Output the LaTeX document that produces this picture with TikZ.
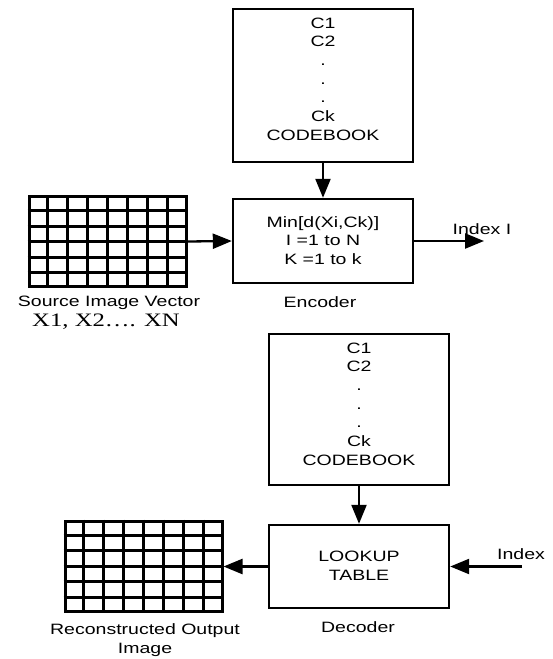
\documentclass[tikz,border=0pt]{standalone}
\usepackage{fontspec}
\setmainfont{Liberation Sans}[FakeStretch=1.3]
\newfontfamily\serifX{Liberation Serif}[FakeStretch=1.3]
\usetikzlibrary{arrows.meta,calc}
\begin{document}
\begin{tikzpicture}[x=1pt,y=-1pt,
  box/.style={draw,line width=2.4pt,minimum width=180pt,inner sep=0pt},
  lbl/.style={inner sep=0pt,align=center,font=\fontsize{15}{18.7}\selectfont},
  arr/.style={line width=2.3pt,-{Triangle[length=19pt,width=15pt]}},
  gline/.style={line width=3pt},
  gridbox/.style={draw,line width=3pt,inner sep=0pt,minimum width=157pt,minimum height=90pt}]
\useasboundingbox (0,0) rectangle (552,659);
% encoder part
\node[box,minimum height=153pt] (cb1) at (323,85.5) {};
\node[lbl] (cb1t) at (323,79) {C1\\C2\\.\\.\\.\\Ck\\CODEBOOK};
\node[box,minimum height=84pt] (enc) at (323,241) {};
\node[lbl] (enct) at (323,240.5) {Min[d(Xi,Ck)]\\I =1 to N\\K =1 to k};
\node[gridbox] (src) at (107.5,241.5) {};
\foreach \i in {1,...,7} \draw[gline] ($(src.north west)!\i/8!(src.north east)$) -- ($(src.south west)!\i/8!(src.south east)$);
\foreach \j in {1,...,5} \draw[gline] ($(src.north west)!\j/6!(src.south west)$) -- ($(src.north east)!\j/6!(src.south east)$);
\coordinate (idxout) at (484,241);
\node[lbl] (idxI) at (482,229) {Index I};
\node[lbl] (enclbl) at (320,302) {Encoder};
\node[lbl] (srclbl) at (109,303) {Source Image Vector};
\node[inner sep=0pt,font=\serifX\fontsize{19}{22}\selectfont] (xlbl) at (106,322) {X1, X2…. XN};
\draw[arr] (cb1) -- (enc);
\draw[arr] (src.east) -- (enc.west);
\draw[arr] (enc.east) -- (idxout);
% decoder part
\node[box,minimum height=151pt] (cb2) at (359,409.5) {};
\node[lbl] (cb2t) at (359,404) {C1\\C2\\.\\.\\.\\Ck\\CODEBOOK};
\node[box,minimum height=83pt] (lut) at (359,566.5) {};
\node[lbl] (lutt) at (359,566) {LOOKUP\\TABLE};
\node[gridbox] (rec) at (143.5,566) {};
\foreach \i in {1,...,7} \draw[gline] ($(rec.north west)!\i/8!(rec.north east)$) -- ($(rec.south west)!\i/8!(rec.south east)$);
\foreach \j in {1,...,5} \draw[gline] ($(rec.north west)!\j/6!(rec.south west)$) -- ($(rec.north east)!\j/6!(rec.south east)$);
\coordinate (idxin) at (522,566.5);
\node[lbl] (idx) at (521,554) {Index};
\node[lbl] (declbl) at (358,627) {Decoder};
\node[lbl] (reclbl) at (145,640) {Reconstructed Output\\Image};
\draw[arr] (cb2) -- (lut);
\draw[arr] (idxin) -- (lut.east);
\draw[arr] (lut.west) -- (rec.east |- lut.west);
\end{tikzpicture}
\end{document}
